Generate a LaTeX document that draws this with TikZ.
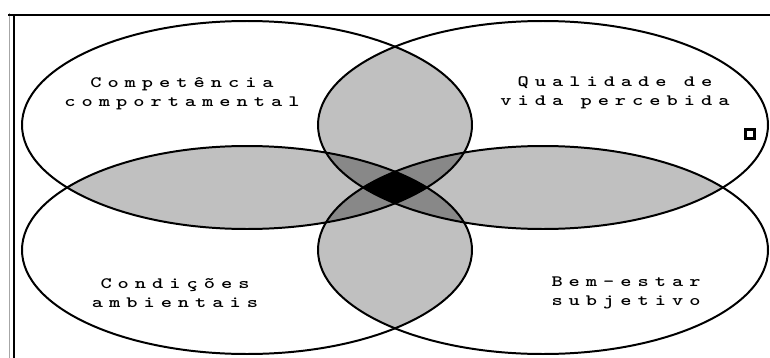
\documentclass[tikz,border=0pt]{standalone}
\usepackage{fontspec}
\newfontfamily\vennfont{lmmonolt10-bold.otf}[FakeStretch=1.35, LetterSpace=38]
\usepackage{tikz}
\definecolor{lensgray}{RGB}{192,192,192}
\definecolor{triplegray}{RGB}{136,136,136}
\tikzset{
	ring/.style={draw=black, line width=1.7pt},
	vennlabel/.style={align=center, inner sep=0pt, font=\vennfont\fontsize{13.5}{16}\selectfont},
	framebar/.style={line width=#1, line cap=rect},
}

\begin{document}
\begin{tikzpicture}[x=0.03cm, y=-0.03cm, x radius=225, y radius=104]
	\useasboundingbox (0,0) rectangle (770,358);

	% the frame round the figure
	\draw[framebar=0.5pt, gray!70] (9,13) -- (9,358);
	\draw[framebar=1.4pt] (14,15) -- (14,358);
	\draw[framebar=1.4pt] (9,15) -- (770,15);

	\coordinate (tl) at (247,125);
	\coordinate (tr) at (543,125);
	\coordinate (bl) at (247,250);
	\coordinate (br) at (543,250);

	% overlaps of two, three and four sets
	\foreach \ea/\eb in {tl/tr, tl/bl, tl/br, tr/bl, tr/br, bl/br}
	{
		\begin{scope}
			\clip (\ea) ellipse;
			\fill[lensgray] (\eb) ellipse;
		\end{scope}
	}
	\foreach \ea/\eb/\ec in {tl/tr/bl, tl/tr/br, tl/bl/br, tr/bl/br}
	{
		\begin{scope}
			\clip (\ea) ellipse;
			\clip (\eb) ellipse;
			\fill[triplegray] (\ec) ellipse;
		\end{scope}
	}
	\begin{scope}
		\clip (tl) ellipse;
		\clip (tr) ellipse;
		\clip (bl) ellipse;
		\fill[black] (br) ellipse;
	\end{scope}

	\foreach \e in {tl, tr, bl, br}
		\draw[ring] (\e) ellipse;

	\node[vennlabel] (comp) at (182,94)  {Competência\\comportamental};
	\node[vennlabel] (qual) at (615,93)  {Qualidade de\\vida percebida};
	\node[vennlabel] (cond) at (175,293) {Condições\\ambientais};
	\node[vennlabel] (bem)  at (626,293) {Bem-estar\\subjetivo};

	\node[draw, line width=2pt, minimum size=0.28cm, inner sep=0pt] (mark) at (750,134) {};
\end{tikzpicture}
\end{document}
